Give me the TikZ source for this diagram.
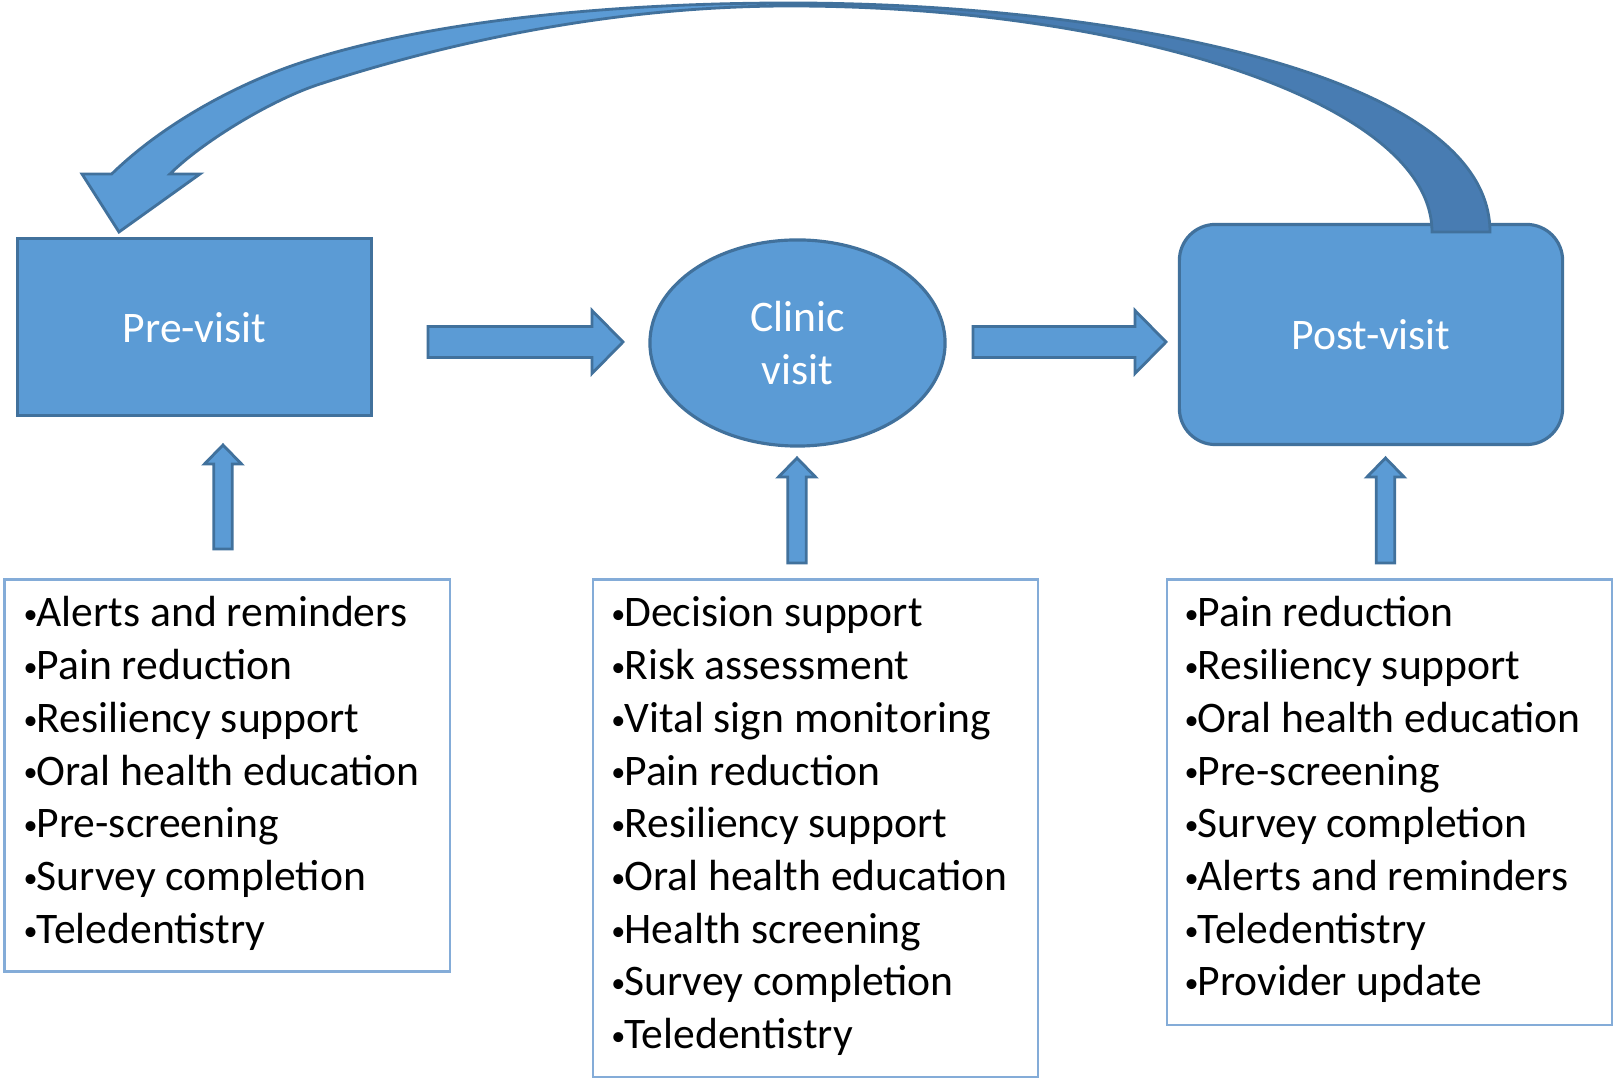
\documentclass[tikz,border=0pt]{standalone}
\usepackage{fontspec}
\setmainfont{Carlito}
\usetikzlibrary{shapes.geometric, calc}
\definecolor{boxblue}{RGB}{91,155,213}
\definecolor{edgeblue}{RGB}{65,113,156}
\definecolor{backblue}{RGB}{72,124,178}
\definecolor{frameblue}{RGB}{132,172,216}

% block arrows: tail coordinate, tip coordinate
\newcommand{\rightblock}[2]{%
  \draw[blockarr] ($(#1)+(0,-15.5)$) -- ($(#2)+(-31,-15.5)$) -- ($(#2)+(-31,-31.5)$)
    -- (#2) -- ($(#2)+(-31,31.5)$) -- ($(#2)+(-31,15.5)$) -- ($(#1)+(0,15.5)$) -- cycle;}
\newcommand{\upblock}[2]{%
  \draw[blockarr] ($(#1)+(-9.3,0)$) -- ($(#2)+(-9.3,19)$) -- ($(#2)+(-18.5,19)$)
    -- (#2) -- ($(#2)+(18.5,19)$) -- ($(#2)+(9.3,19)$) -- ($(#1)+(9.3,0)$) -- cycle;}
% small bullet as in the lists
\newcommand{\dotmark}{\makebox[3.7pt][l]{\fontsize{8}{8}\selectfont\raisebox{0.9pt}{•}}}

\begin{document}
\begin{tikzpicture}[
  x=0.01cm, y=-0.01cm,
  stage/.style={draw=edgeblue, line width=0.9pt, fill=boxblue, text=white,
                font=\fontsize{12.4}{15}\selectfont, align=center},
  listbox/.style={draw=frameblue, line width=0.7pt, anchor=north west,
                  minimum width=4.45cm, inner sep=0pt},
  item/.style={anchor=base west, inner sep=0pt, font=\fontsize{12.4}{15}\selectfont},
  blockarr/.style={draw=edgeblue, fill=boxblue, line width=0.8pt, line join=miter}
]
  \fill[white] (0,0) rectangle (1614,1080);
  \useasboundingbox (0,0) rectangle (1614,1080);

  % Stages
  \node[stage, minimum width=3.54cm, minimum height=1.77cm] (prev) at (194.5,327.3) {Pre-visit};
  \node[stage, ellipse, minimum width=2.95cm, minimum height=2.06cm] (clinic) at (797.5,343) {Clinic\\visit};
  \node[stage, rounded corners=0.36cm, minimum width=3.83cm, minimum height=2.2cm] (postv) at (1371,334.5) {Post-visit};

  % Flow arrows
  \coordinate (a1s) at (428,342);  \coordinate (a1e) at (623,342);
  \coordinate (a2s) at (973,342);  \coordinate (a2e) at (1166,342);
  \rightblock{a1s}{a1e}
  \rightblock{a2s}{a2e}

  % Feedback arrow (post-visit back to pre-visit)
  \fill[boxblue] (119,232) -- (200,174) -- (170,174)
    .. controls (200,144) and (267,102) .. (317,85)
    .. controls (430,48) and (600,6) .. (790,6)
    .. controls (1120,6) and (1432,100) .. (1432,232) -- (1490,232)
    .. controls (1490,70) and (1100,3) .. (790,3)
    .. controls (600,3) and (420,23) .. (300,63)
    .. controls (240,83) and (165,122) .. (111.7,174) -- (82,174) -- cycle;
  \fill[backblue] (790,3) .. controls (1100,3) and (1490,70) .. (1490,232) -- (1432,232)
    .. controls (1432,100) and (1120,6) .. (790,6) -- cycle;
  \draw[edgeblue, line width=0.8pt, line join=miter] (119,232) -- (200,174) -- (170,174)
    .. controls (200,144) and (267,102) .. (317,85)
    .. controls (430,48) and (600,6) .. (790,6)
    .. controls (1120,6) and (1432,100) .. (1432,232) -- (1490,232)
    .. controls (1490,70) and (1100,3) .. (790,3)
    .. controls (600,3) and (420,23) .. (300,63)
    .. controls (240,83) and (165,122) .. (111.7,174) -- (82,174) -- cycle;

  % Lists
  \node[listbox, minimum height=3.917cm] (prelist) at (3.3,578.3) {};
  \node[listbox, minimum height=4.974cm] (cliniclist) at (591.7,578.3) {};
  \node[listbox, minimum height=4.45cm] (postlist) at (1165.7,578.3) {};

  \foreach \txt [count=\i] in {Alerts and reminders, Pain reduction, Resiliency support,
      Oral health education, Pre-screening, Survey completion, Teledentistry}
    \node[item] (pre\i) at (23,{627+52.7*(\i-1)}) {\dotmark\txt};
  \foreach \txt [count=\i] in {Decision support, Risk assessment, Vital sign monitoring,
      Pain reduction, Resiliency support, Oral health education, Health screening,
      Survey completion, Teledentistry}
    \node[item] (cli\i) at (610.7,{627+52.7*(\i-1)}) {\dotmark\txt};
  \foreach \txt [count=\i] in {Pain reduction, Resiliency support, Oral health education,
      Pre-screening, Survey completion, Alerts and reminders, Teledentistry, Provider update}
    \node[item] (post\i) at (1184,{627+52.7*(\i-1)}) {\dotmark\txt};

  % Support arrows
  \coordinate (u1s) at (223,549);   \coordinate (u1e) at (223,445);
  \coordinate (u2s) at (797,563);   \coordinate (u2e) at (797,458);
  \coordinate (u3s) at (1385.5,563); \coordinate (u3e) at (1385.5,458);
  \upblock{u1s}{u1e}
  \upblock{u2s}{u2e}
  \upblock{u3s}{u3e}
\end{tikzpicture}
\end{document}
